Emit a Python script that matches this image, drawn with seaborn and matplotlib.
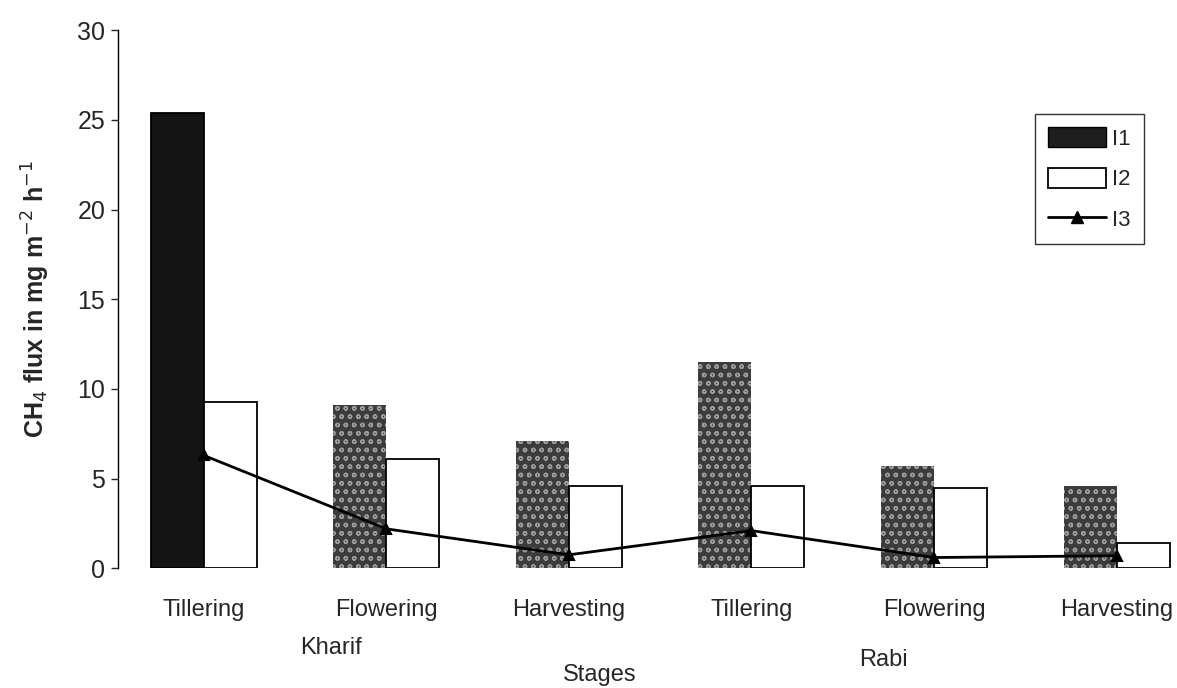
import pandas as pd
import numpy as np
import matplotlib.pyplot as plt
import seaborn as sns
from matplotlib.patches import Patch
from matplotlib.lines import Line2D

# Values (CH4 flux)
seasons = ['Kharif', 'Kharif', 'Kharif', 'Rabi', 'Rabi', 'Rabi']
stages = ['Tillering', 'Flowering', 'Harvesting', 'Tillering', 'Flowering', 'Harvesting']
i1 = [25.4, 9.1, 7.1, 11.5, 5.7, 4.6]
i2 = [9.3, 6.1, 4.6, 4.6, 4.5, 1.4]
i3 = [6.3, 2.2, 0.75, 2.1, 0.6, 0.7]
y_ticks = [0, 5, 10, 15, 20, 25, 30]

keys = [f'{s} {t}' for s, t in zip(seasons, stages)]
bars = pd.DataFrame({
    'key': keys * 2,
    'flux': i1 + i2,
    'series': ['I1'] * 6 + ['I2'] * 6,
})
line = pd.DataFrame({'key': keys, 'flux': i3})

sns.set_style('white')
plt.rcParams['font.family'] = ['Liberation Sans', 'DejaVu Sans']

fig = plt.figure(figsize=(11.77, 6.88), dpi=100)
ax = fig.add_axes([0.100, 0.174, 0.900, 0.782])

sns.barplot(data=bars, x='key', y='flux', hue='series', order=keys,
            hue_order=['I1', 'I2'], palette=['#2a2a2a', 'white'],
            width=0.58, gap=0, edgecolor='black', linewidth=1.3,
            legend=False, ax=ax)

# dotted texture on the dark bars (first one stays solid)
dark = ax.patches[:6]
for k, p in enumerate(dark):
    if k > 0:
        p.set_facecolor('#3c3c3c')
        p.set_hatch('oo')
        p.set_edgecolor('#9a9a9a')
        p.set_linewidth(0)
    else:
        p.set_facecolor('#141414')

sns.pointplot(data=line, x='key', y='flux', order=keys, color='black',
              markers='^', markersize=7, linewidth=2, ax=ax)

ax.set_ylim(0, 30)
ax.set_xlim(-0.47, 5.33)
ax.set_yticks(y_ticks)
ax.set_xticks(range(len(keys)))
ax.set_xticklabels(stages)
ax.tick_params(axis='x', length=0, labelsize=17, pad=22)
ax.tick_params(axis='y', length=5, width=1, direction='out', labelsize=18,
               left=True, pad=4)
ax.set_xlabel('')
ax.set_ylabel('CH$_4$ flux in mg m$^{-2}$ h$^{-1}$', fontsize=18,
              fontweight='bold', labelpad=18)

for side in ['top', 'right', 'bottom']:
    ax.spines[side].set_visible(False)
ax.spines['left'].set_color('black')
ax.spines['left'].set_linewidth(1)

# season group labels and axis title
ax.text(0.70, -0.148, 'Kharif', transform=ax.get_xaxis_transform(),
        ha='center', va='center', fontsize=17)
ax.text(3.72, -0.17, 'Rabi', transform=ax.get_xaxis_transform(),
        ha='center', va='center', fontsize=17)
ax.text(2.17, -0.198, 'Stages', transform=ax.get_xaxis_transform(),
        ha='center', va='center', fontsize=17)

handles = [
    Patch(facecolor='#1e1e1e', edgecolor='black', label='I1'),
    Patch(facecolor='white', edgecolor='black', linewidth=1.3, label='I2'),
    Line2D([0], [0], color='black', lw=2, marker='^', markersize=8, label='I3'),
]
leg = ax.legend(handles=handles, loc='upper left', bbox_to_anchor=(0.855, 0.865),
                frameon=True, fancybox=False, fontsize=16, handlelength=2.6,
                handleheight=1.0, labelspacing=0.8, handletextpad=0.3,
                borderpad=0.6)
leg.get_frame().set_edgecolor('black')
leg.get_frame().set_linewidth(1)

plt.savefig('out.png', dpi=100)
plt.close()
